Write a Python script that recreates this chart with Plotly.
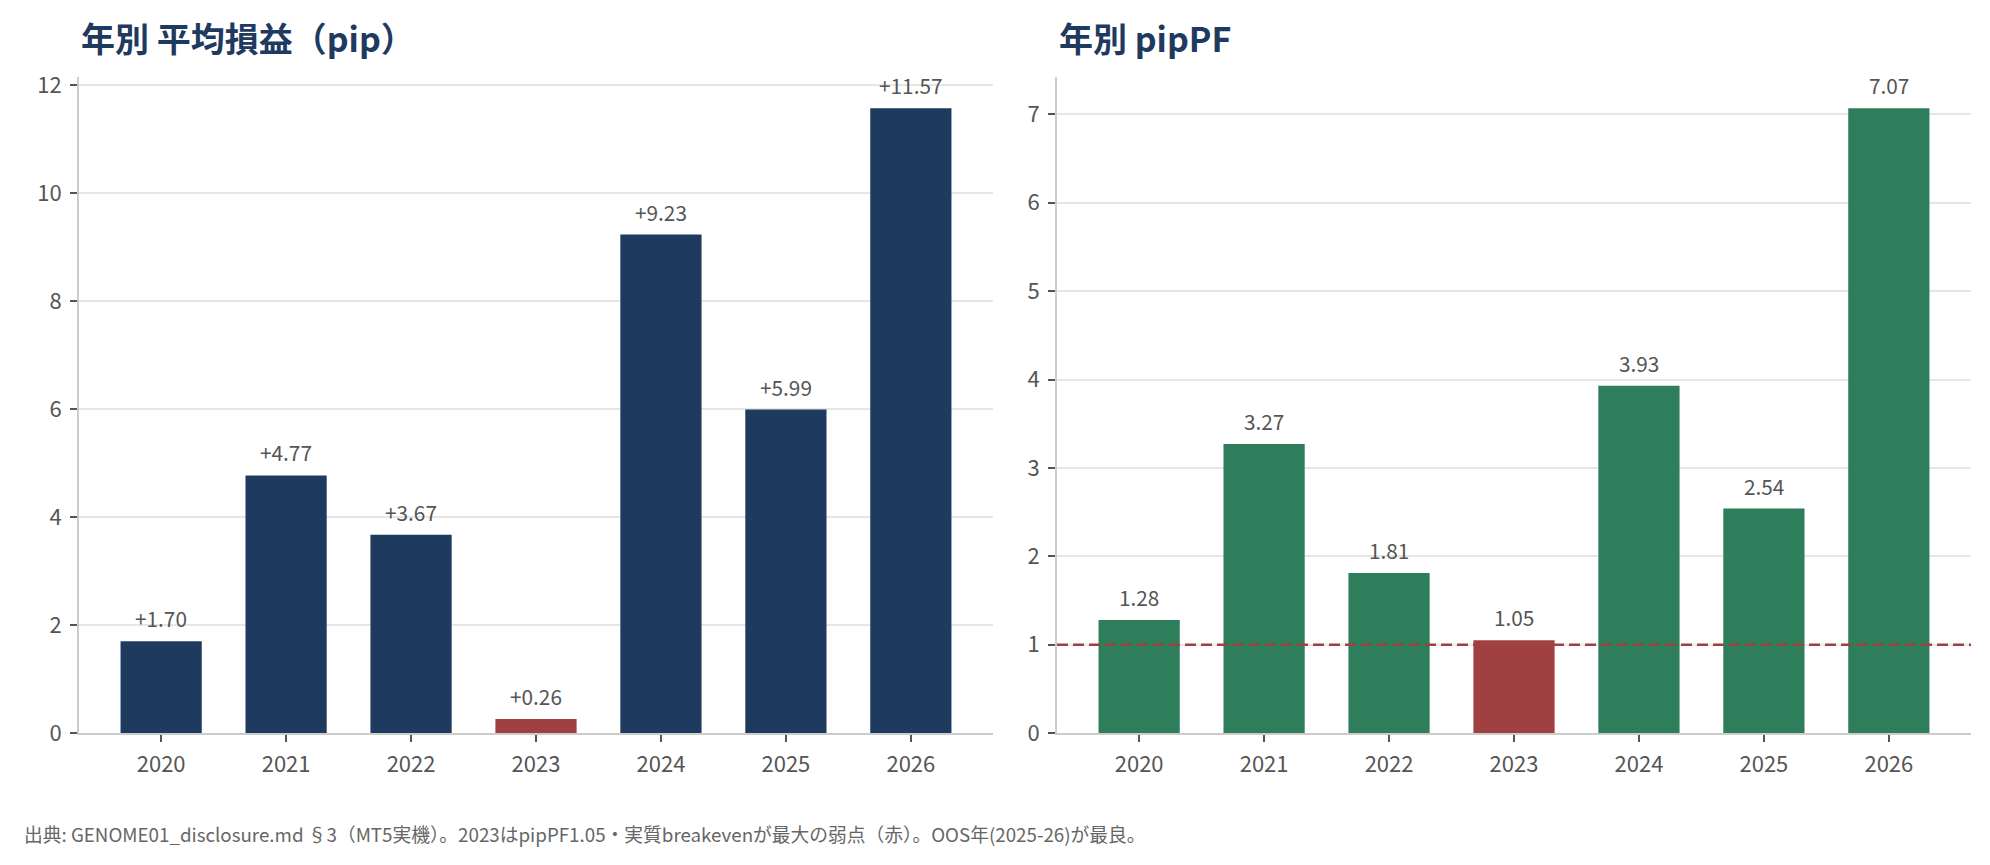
import plotly.graph_objects as go

# ---- data ----
years = ["2020", "2021", "2022", "2023", "2024", "2025", "2026"]
avg_pips = [1.70, 4.77, 3.67, 0.26, 9.23, 5.99, 11.57]
pip_pf = [1.28, 3.27, 1.81, 1.05, 3.93, 2.54, 7.07]
weak_year = "2023"
breakeven_pf = 1.0

title_left = "年別 平均損益（pip）"
title_right = "年別 pipPF"
footnote = "出典: GENOME01_disclosure.md §3（MT5実機）。2023はpipPF1.05・実質breakevenが最大の弱点（赤）。OOS年(2025-26)が最良。"

# ---- style ----
NAVY = "#1F3A5F"
GREEN = "#2E7D5B"
RED = "#A04040"
TICK = "#555555"
SPINE = "#CCCCCC"
GRID = "#E6E6E6"
FONT = "Noto Sans CJK JP"

W, H = 1990, 865
ML, MR, MT, MB = 79, 19, 77, 132
PW = W - ML - MR
PH = H - MT - MB
GAP = 64

left_colors = [RED if y == weak_year else NAVY for y in years]
right_colors = [RED if y == weak_year else GREEN for y in years]

fig = go.Figure()
fig.add_trace(go.Bar(x=years, y=avg_pips, marker=dict(color=left_colors, line=dict(width=0)),
                     width=0.65, xaxis="x", yaxis="y", showlegend=False, hoverinfo="x+y"))
fig.add_trace(go.Bar(x=years, y=pip_pf, marker=dict(color=right_colors, line=dict(width=0)),
                     width=0.65, xaxis="x2", yaxis="y2", showlegend=False, hoverinfo="x+y"))

annotations = []
for i, v in enumerate(avg_pips):
    annotations.append(dict(x=i, y=v, xref="x", yref="y", text=f"{v:+.2f}", showarrow=False,
                            yanchor="bottom", yshift=6, font=dict(size=20.8, color=TICK, family=FONT)))
for i, v in enumerate(pip_pf):
    annotations.append(dict(x=i, y=v, xref="x2", yref="y2", text=f"{v:.2f}", showarrow=False,
                            yanchor="bottom", yshift=6, font=dict(size=20.8, color=TICK, family=FONT)))

title_y = 1 + (MT - 38) / PH
annotations.append(dict(x=0, y=title_y, xref="x domain", yref="paper", text=f"<b>{title_left}</b>",
                        showarrow=False, xanchor="left", yanchor="middle",
                        font=dict(size=34, color=NAVY, family=FONT)))
annotations.append(dict(x=0, y=title_y, xref="x2 domain", yref="paper", text=f"<b>{title_right}</b>",
                        showarrow=False, xanchor="left", yanchor="middle",
                        font=dict(size=34, color=NAVY, family=FONT)))
annotations.append(dict(x=(22 - ML) / PW, y=(PH - (833 - MT)) / PH, xref="paper", yref="paper",
                        text=footnote, showarrow=False, xanchor="left", yanchor="middle",
                        font=dict(size=18.75, color="#666666", family=FONT)))

xr = [-0.6575, len(years) - 1 + 0.6575]
axis_common = dict(showline=True, linecolor=SPINE, linewidth=1.7, ticks="outside", ticklen=7,
                   tickwidth=1.7, tickcolor=TICK, tickfont=dict(size=22, color=TICK, family=FONT),
                   zeroline=False, mirror=False, ticklabelstandoff=4)

fig.add_shape(type="line", xref="x2 domain", yref="y2", x0=0, x1=1, y0=breakeven_pf, y1=breakeven_pf,
              line=dict(color=RED, width=2.5, dash="11px,5px"), layer="above")

fig.update_layout(
    width=W, height=H,
    margin=dict(l=ML, r=MR, t=MT, b=MB, pad=0),
    paper_bgcolor="white", plot_bgcolor="white",
    font=dict(family=FONT, color=TICK),
    bargap=0.35,
    xaxis=dict(domain=[0, (PW - GAP) / 2 / PW], range=xr, type="category", showgrid=False, **axis_common),
    yaxis=dict(anchor="x", range=[0, max(avg_pips) * 1.05], dtick=2, tick0=0, showgrid=True,
               gridcolor=GRID, gridwidth=1.6, **axis_common),
    xaxis2=dict(domain=[1 - (PW - GAP) / 2 / PW, 1], range=xr, type="category", showgrid=False,
                anchor="y2", **axis_common),
    yaxis2=dict(anchor="x2", range=[0, max(pip_pf) * 1.05], dtick=1, tick0=0, showgrid=True,
                gridcolor=GRID, gridwidth=1.6, **axis_common),
    annotations=annotations,
)

fig.write_html("out.html")
